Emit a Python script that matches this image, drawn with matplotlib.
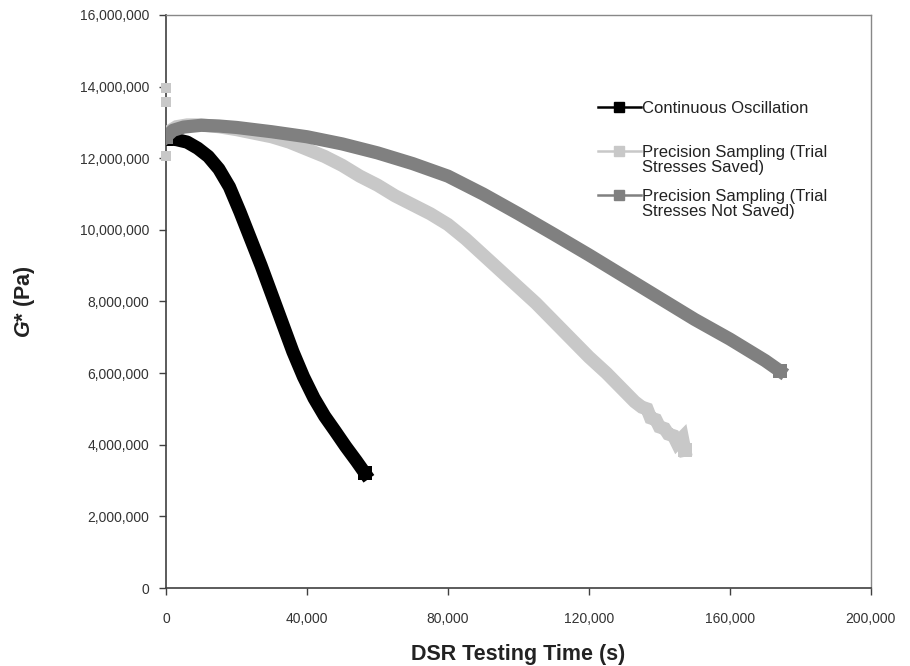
import matplotlib
matplotlib.use("Agg")
import matplotlib.pyplot as plt
from matplotlib.lines import Line2D
from matplotlib.ticker import FuncFormatter, MultipleLocator

plt.rcParams["font.family"] = ["Liberation Sans", "DejaVu Sans"]
plt.rcParams["mathtext.fontset"] = "custom"
plt.rcParams["mathtext.it"] = "Liberation Sans:italic:bold"
plt.rcParams["mathtext.rm"] = "Liberation Sans:bold"

# Continuous oscillation: time (s) and |G*| (Pa)
t_cont = [0, 3000, 6000, 9000, 12000, 15000, 18000, 21000, 24000, 27000,
          30000, 33000, 36000, 39000, 42000, 45000, 48000, 51000, 54000, 56500]
g_cont = [12.55e6, 12.52e6, 12.45e6, 12.28e6, 12.05e6, 11.7e6, 11.2e6, 10.5e6, 9.75e6, 9.0e6,
          8.2e6, 7.4e6, 6.6e6, 5.9e6, 5.3e6, 4.8e6, 4.38e6, 3.95e6, 3.55e6, 3.2e6]

# Precision sampling, trial stresses saved
t_saved = [0, 3000, 6000, 10000, 15000, 20000, 25000, 30000, 35000, 40000,
           45000, 50000, 55000, 60000, 65000, 70000, 75000, 80000, 85000, 90000,
           95000, 100000, 105000, 110000, 115000, 120000, 125000, 130000, 133000, 135000,
           136500, 137500, 139000, 140000, 141500, 142500, 144000, 145000, 146500, 147200]
g_saved = [12.7e6, 12.88e6, 12.93e6, 12.93e6, 12.88e6, 12.8e6, 12.7e6, 12.6e6, 12.45e6, 12.25e6,
           12.05e6, 11.8e6, 11.5e6, 11.25e6, 10.95e6, 10.7e6, 10.45e6, 10.15e6, 9.75e6, 9.3e6,
           8.85e6, 8.4e6, 7.95e6, 7.45e6, 6.95e6, 6.45e6, 6.0e6, 5.5e6, 5.2e6, 5.05e6,
           5.0e6, 4.75e6, 4.7e6, 4.5e6, 4.45e6, 4.3e6, 4.25e6, 4.05e6, 4.2e6, 3.85e6]

# Early trial readings of the saved-stress run
t_saved_start = [0, 0, 0]
g_saved_start = [13.97e6, 13.58e6, 12.07e6]

# Precision sampling, trial stresses not saved
t_unsaved = [0, 2000, 5000, 10000, 15000, 20000, 30000, 40000, 50000, 60000,
             70000, 80000, 90000, 100000, 110000, 120000, 130000, 140000, 150000, 160000,
             170000, 174200]
g_unsaved = [12.6e6, 12.78e6, 12.87e6, 12.92e6, 12.9e6, 12.86e6, 12.74e6, 12.6e6, 12.4e6, 12.15e6,
             11.85e6, 11.5e6, 11.0e6, 10.45e6, 9.88e6, 9.3e6, 8.7e6, 8.1e6, 7.5e6, 6.95e6,
             6.35e6, 6.06e6]

labels = ["Continuous Oscillation\n",
          "Precision Sampling (Trial\nStresses Saved)",
          "Precision Sampling (Trial\nStresses Not Saved)"]
colors = ["#000000", "#C8C8C8", "#808080"]

fig = plt.figure(figsize=(9.10, 6.66), dpi=100)
ax = fig.add_axes([0.1824, 0.1171, 0.7746, 0.8604])

lw = 9.5
ms = 9.5
ax.plot(t_cont, g_cont, color=colors[0], lw=lw, marker="s", ms=ms, mew=0,
        markevery=[0, len(t_cont) - 1], solid_joinstyle="round", zorder=3)
ax.plot(t_saved, g_saved, color=colors[1], lw=lw, marker="s", ms=ms, mew=0,
        markevery=[0, len(t_saved) - 1], solid_joinstyle="miter", zorder=4)
ax.plot(t_saved_start, g_saved_start, color=colors[1], lw=0, marker="s", ms=7.5,
        mew=0, zorder=4, clip_on=False)
ax.plot(t_unsaved, g_unsaved, color=colors[2], lw=lw, marker="s", ms=ms, mew=0,
        markevery=[0, len(t_unsaved) - 1], solid_joinstyle="round", zorder=5)

ax.set_xlim(0, 200000)
ax.set_ylim(0, 16000000)
ax.xaxis.set_major_locator(MultipleLocator(40000))
ax.yaxis.set_major_locator(MultipleLocator(2000000))
fmt = FuncFormatter(lambda v, p: f"{v:,.0f}")
ax.xaxis.set_major_formatter(fmt)
ax.yaxis.set_major_formatter(fmt)

ax.tick_params(axis="both", direction="out", length=5, width=1, color="#404040",
               labelsize=10, labelcolor="#333333")
ax.tick_params(axis="x", pad=12)
ax.tick_params(axis="y", pad=7)

for side in ("left", "bottom"):
    ax.spines[side].set_color("#404040")
    ax.spines[side].set_linewidth(1.2)
for side in ("top", "right"):
    ax.spines[side].set_color("#888888")
    ax.spines[side].set_linewidth(1.0)

ax.set_xlabel("DSR Testing Time (s)", fontsize=15.5, fontweight="bold",
              color="#222222", labelpad=13)
ax.set_ylabel("$G$* (Pa)", fontsize=15.5, fontweight="bold",
              color="#222222", labelpad=31)

# legend entries: thin line with a small square marker
handles = [Line2D([], [], color=c, lw=1.8, marker="s", ms=6.5) for c in colors]
leg = ax.legend(handles, labels, loc="upper left", bbox_to_anchor=(0.603, 0.862),
                frameon=False, fontsize=12, handlelength=2.6, handletextpad=0.05,
                labelspacing=0.8, handleheight=1.0, borderaxespad=0)
for t in leg.get_texts():
    t.set_linespacing(1.05)
    t.set_color("#222222")
try:
    for row in leg._legend_handle_box.get_children()[0].get_children():
        row.align = "top"
except Exception:
    pass

fig.savefig("out.png", dpi=100)
